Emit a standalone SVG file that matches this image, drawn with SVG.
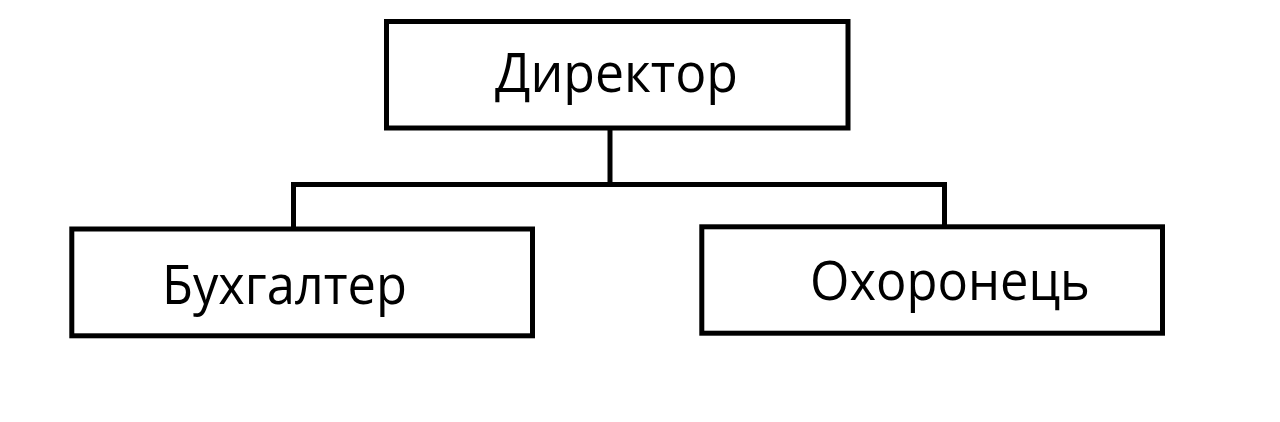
<svg xmlns="http://www.w3.org/2000/svg" width="1280" height="422" viewBox="0 0 1280 422">
<style>
.box{fill:#fff;stroke:#000;stroke-width:5}
.con{fill:none;stroke:#000;stroke-width:5}
.lbl{font-family:"Open Sans","Noto Sans",sans-serif;font-size:54px;fill:#000}
</style>
<rect width="1280" height="422" fill="#fff"/>
<g id="connectors">
<line class="con" x1="610" y1="128" x2="610" y2="184.5"/>
<polyline class="con" points="293.5,229 293.5,184.5 944.5,184.5 944.5,227"/>
</g>
<g id="director">
<rect class="box" x="386.5" y="21.5" width="461.5" height="106.5"/>
<text class="lbl" x="495" y="92" textLength="243" lengthAdjust="spacingAndGlyphs">Директор</text>
</g>
<g id="accountant">
<rect class="box" x="71.8" y="229" width="460.7" height="106.8"/>
<text class="lbl" x="162" y="304" textLength="245" lengthAdjust="spacingAndGlyphs">Бухгалтер</text>
</g>
<g id="guard">
<rect class="box" x="701.8" y="226.8" width="460.7" height="106.4"/>
<text class="lbl" x="810" y="300" textLength="280" lengthAdjust="spacingAndGlyphs">Охоронець</text>
</g>
</svg>
